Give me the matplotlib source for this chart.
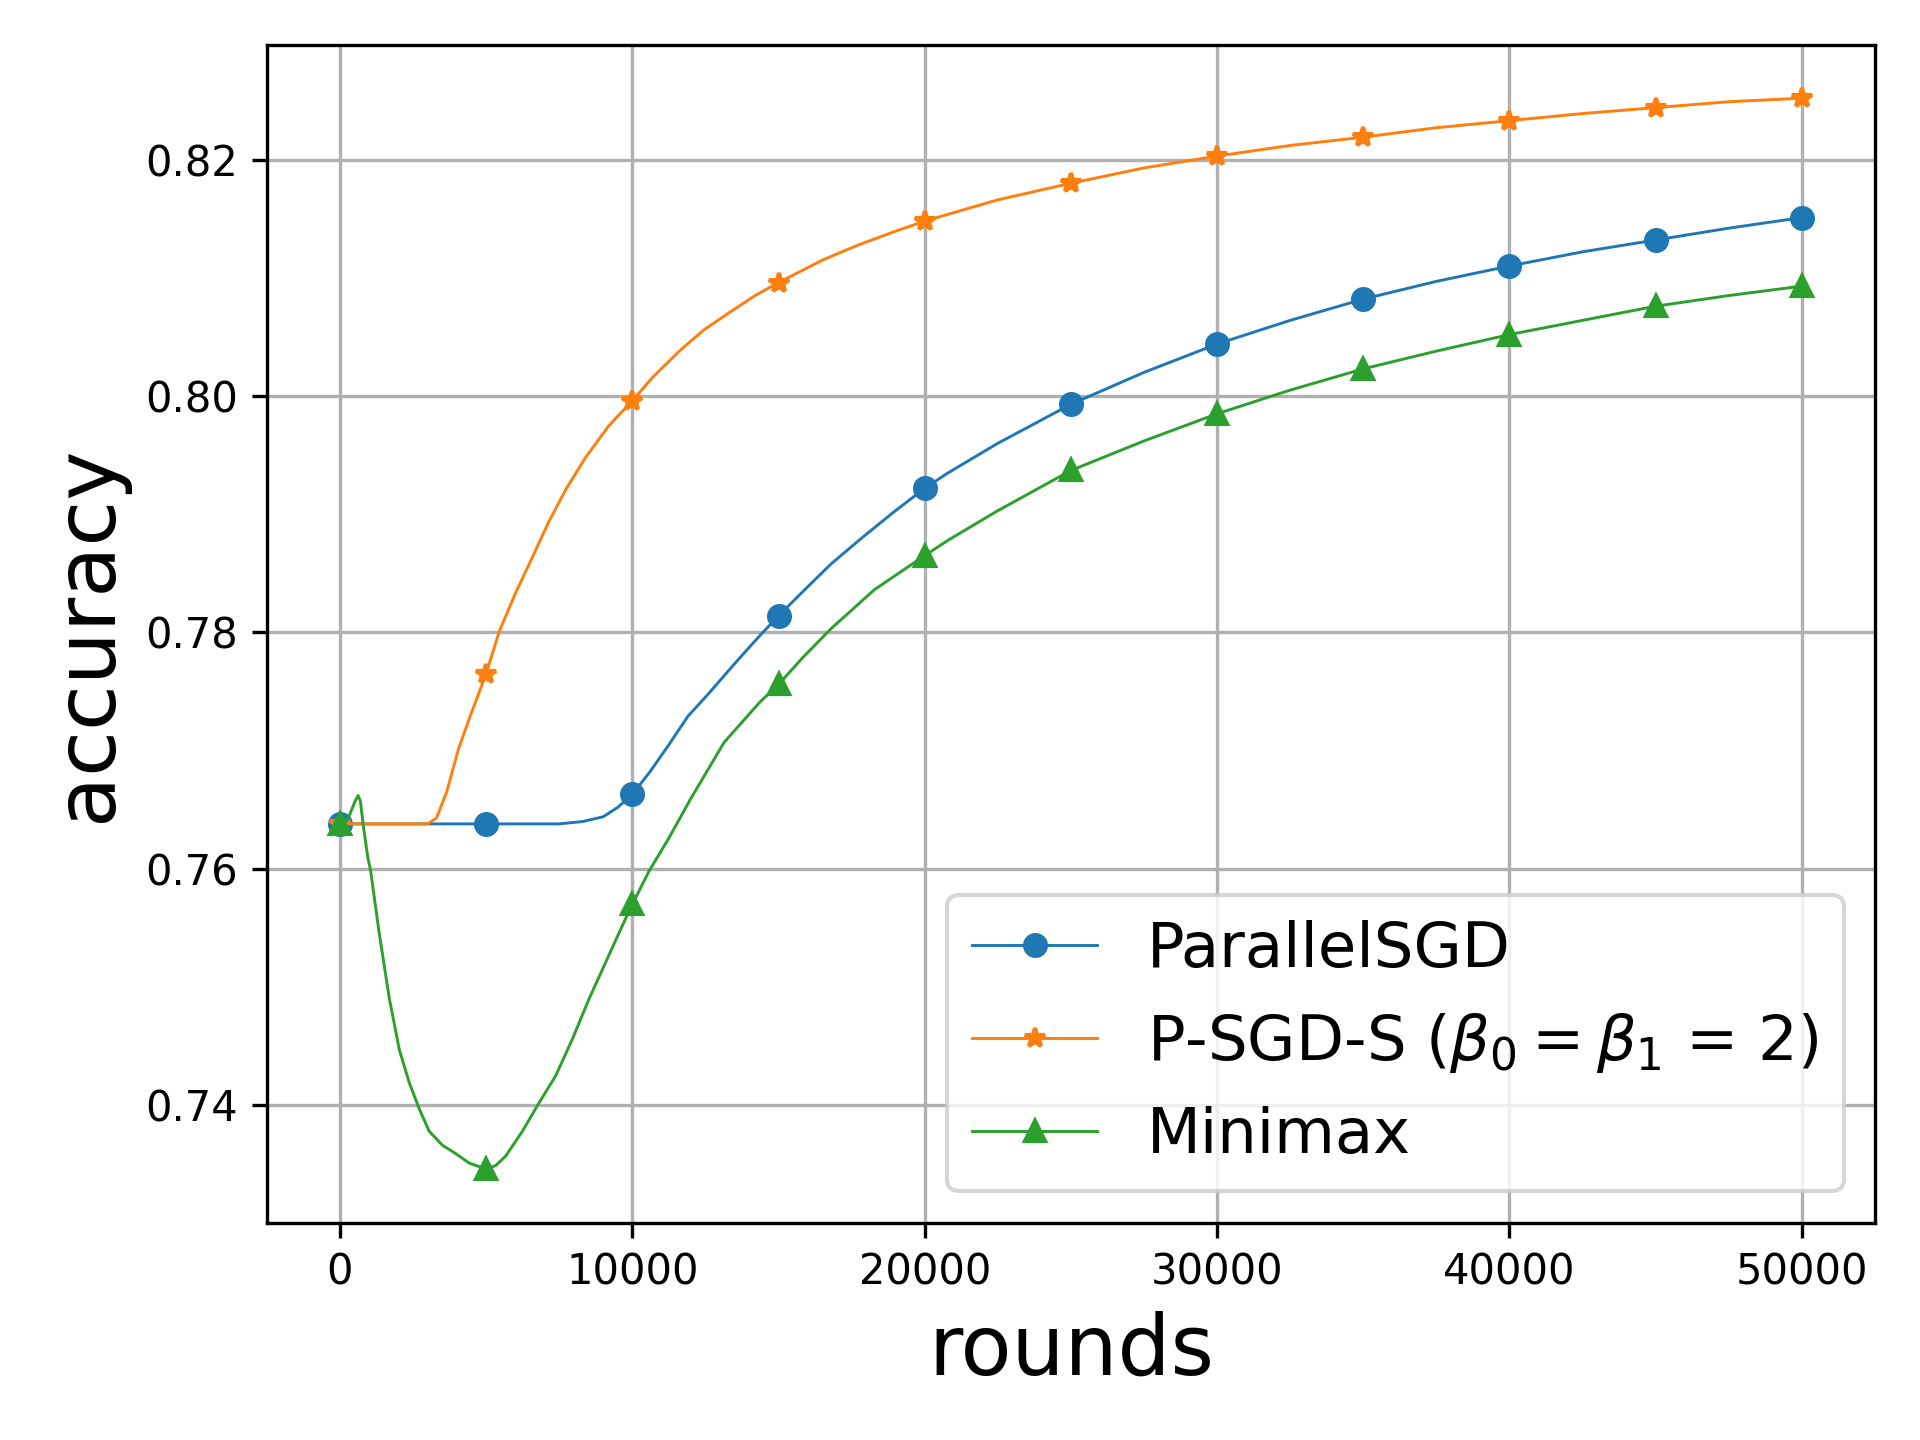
import matplotlib
matplotlib.use("Agg")
import matplotlib.pyplot as plt

# ParallelSGD
psgd_x = [0, 2500, 5000, 7500, 8300, 9000, 9500, 10000, 10600, 11250, 11900, 12600,
          13550, 14350, 15000, 15850, 16800, 17900, 18950, 20000, 20800, 22500, 25000,
          27500, 30000, 32500, 35000, 37500, 40000, 42500, 45000, 47500, 50000]
psgd_y = [0.7638, 0.7638, 0.7638, 0.7638, 0.7640, 0.7644, 0.7652, 0.7663, 0.7682, 0.7705,
          0.7729, 0.7748, 0.7775, 0.7797, 0.7814, 0.7835, 0.7858, 0.7881, 0.7902, 0.7922,
          0.7935, 0.7960, 0.7993, 0.8020, 0.8044, 0.8064, 0.8082, 0.8097, 0.8110, 0.8122,
          0.8132, 0.8142, 0.8151]

# P-SGD-S
psgds_x = [0, 2500, 3000, 3300, 3650, 4050, 4450, 5000, 5450, 6000, 6550, 7150, 7750,
           8400, 9200, 10000, 10700, 11650, 12450, 13400, 14200, 15000, 16500, 17750,
           18950, 20000, 22500, 25000, 27500, 30000, 32500, 35000, 37500, 40000, 42500,
           45000, 47500, 50000]
psgds_y = [0.7638, 0.7638, 0.7638, 0.7643, 0.7665, 0.7701, 0.7729, 0.7765, 0.7801, 0.7833,
           0.7862, 0.7894, 0.7922, 0.7948, 0.7975, 0.7996, 0.8016, 0.8039, 0.8056, 0.8072,
           0.8085, 0.8096, 0.8115, 0.8128, 0.8139, 0.8148, 0.8166, 0.8180, 0.8193, 0.8203,
           0.8212, 0.8219, 0.8227, 0.8233, 0.8239, 0.8244, 0.8249, 0.8252]

# Minimax
mm_x = [0, 250, 400, 530, 620, 700, 800, 950, 1050, 1340, 1690, 2030, 2370, 2710, 3050,
        3510, 3960, 4420, 5000, 5330, 5670, 6240, 6810, 7380, 7950, 8520, 9090, 9660,
        10000, 10570, 11250, 11990, 13140, 14360, 15000, 15840, 16790, 18270, 20000,
        20800, 22500, 25000, 27500, 30000, 32500, 35000, 37500, 40000, 42500, 45000,
        47500, 50000]
mm_y = [0.7638, 0.7641, 0.7650, 0.7658, 0.7662, 0.7657, 0.7636, 0.7610, 0.7598, 0.7546,
        0.7490, 0.7447, 0.7419, 0.7397, 0.7378, 0.7366, 0.7359, 0.7351, 0.7346, 0.7349,
        0.7357, 0.7378, 0.7402, 0.7425, 0.7456, 0.7490, 0.7521, 0.7552, 0.7570, 0.7598,
        0.7626, 0.7659, 0.7707, 0.7741, 0.7756, 0.7779, 0.7803, 0.7836, 0.7865, 0.7878,
        0.7903, 0.7937, 0.7962, 0.7985, 0.8005, 0.8023, 0.8038, 0.8052, 0.8064, 0.8076,
        0.8085, 0.8093]


def marks(xs):
    # markers only on every 5000 rounds
    return [i for i, x in enumerate(xs) if x % 5000 == 0]


fig, ax = plt.subplots(figsize=(6.4, 4.8), dpi=300)
fig.subplots_adjust(left=0.139, right=0.9765, top=0.969, bottom=0.151)

ax.plot(psgd_x, psgd_y, marker='o', markersize=5, lw=0.7,
        markevery=marks(psgd_x), label='ParallelSGD')
ax.plot(psgds_x, psgds_y, marker='*', markersize=5, lw=0.7,
        markevery=marks(psgds_x), label=r'P-SGD-S ($\beta_0=\beta_1$ = 2)')
ax.plot(mm_x, mm_y, marker='^', markersize=5, lw=0.7,
        markevery=marks(mm_x), label='Minimax')

ax.grid(True)
ax.set_xlabel('rounds', fontsize=20)
ax.set_ylabel('accuracy', fontsize=20)
ax.legend(loc='lower right', fontsize=15)

fig.savefig('out.png', dpi=300)
